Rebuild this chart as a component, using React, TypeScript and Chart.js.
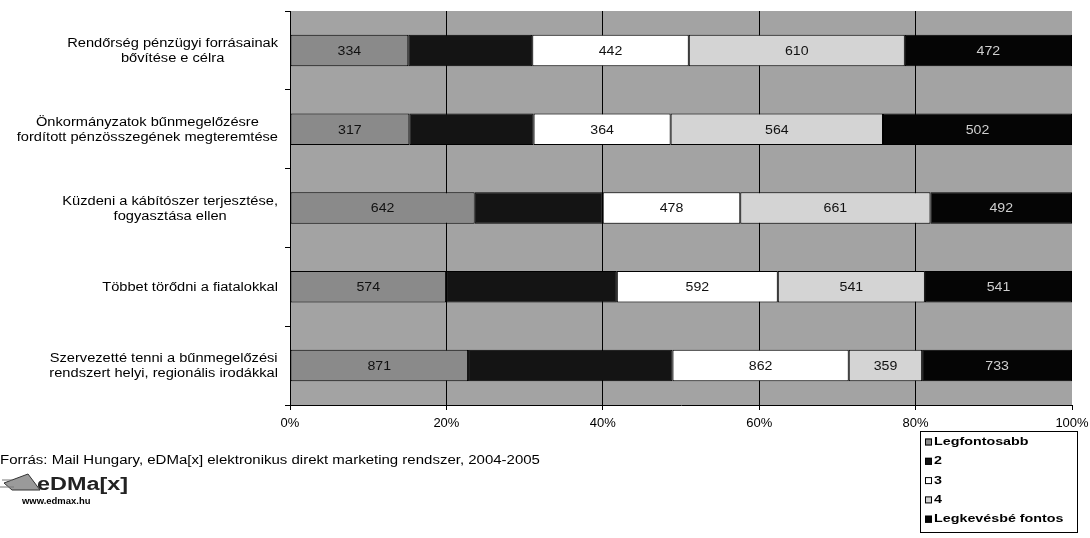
import React, { useEffect, useRef } from "react";
import { Chart, registerables } from "chart.js";

Chart.register(...registerables);

const categories: string[][] = [
  ["Rendőrség pénzügyi forrásainak", "bővítése e célra"],
  ["Önkormányzatok bűnmegelőzésre", "fordított pénzösszegének megteremtése"],
  ["Küzdeni a kábítószer terjesztése,", "fogyasztása ellen"],
  ["Többet törődni a fiatalokkal"],
  ["Szervezetté tenni a bűnmegelőzési", "rendszert helyi, regionális irodákkal"],
];

const seriesNames = ["Legfontosabb", "2", "3", "4", "Legkevésbé fontos"];
const legfontosabb = [334, 317, 642, 574, 871];
const second = [350, 330, 445, 628, 1000];
const third = [442, 364, 478, 592, 862];
const fourth = [610, 564, 661, 541, 359];
const legkevesbe = [472, 502, 492, 541, 733];
const xTicks = [0, 20, 40, 60, 80, 100];

const sourceText = "Forrás: Mail Hungary, eDMa[x] elektronikus direkt marketing rendszer, 2004-2005";
const logoText = "eDMa[x]";
const logoUrl = "www.edmax.hu";

const seriesColors = ["#8a8a8a", "#141414", "#ffffff", "#d4d4d4", "#050505"];
const labelColors = ["#111", "#111", "#111", "#111", "#cfcfcf"];
const FONT = "'Liberation Sans', Arial, sans-serif";
const SX = 1.22;

const raw = [legfontosabb, second, third, fourth, legkevesbe];
const totals = categories.map((_, i) => raw.reduce((s, arr) => s + arr[i], 0));

function stretchText(ctx: any, text: string, x: number, y: number, align: "left" | "center" | "right", sx: number) {
  const w = ctx.measureText(text).width * sx;
  let left = x;
  if (align === "center") left = x - w / 2;
  else if (align === "right") left = x - w;
  ctx.save();
  ctx.textAlign = "left";
  ctx.translate(left, y);
  ctx.scale(sx, 1);
  ctx.fillText(text, 0, 0);
  ctx.restore();
}

const bgPlugin = {
  id: "plotBg",
  beforeDraw(chart: any) {
    const { ctx, chartArea } = chart;
    ctx.save();
    ctx.fillStyle = "#a3a3a3";
    ctx.fillRect(chartArea.left, chartArea.top, chartArea.right - chartArea.left, chartArea.bottom - chartArea.top);
    ctx.restore();
  },
};

const valueLabelPlugin = {
  id: "valueLabels",
  afterDatasetsDraw(chart: any) {
    const { ctx } = chart;
    ctx.save();
    ctx.font = `12px ${FONT}`;
    ctx.textBaseline = "middle";
    chart.data.datasets.forEach((ds: any, di: number) => {
      if (di === 1) return;
      const meta = chart.getDatasetMeta(di);
      meta.data.forEach((el: any, i: number) => {
        const cx = (el.x + el.base) / 2;
        ctx.fillStyle = labelColors[di];
        stretchText(ctx, String(raw[di][i]), cx, el.y + 1, "center", 1.18);
      });
    });
    ctx.restore();
  },
};

const categoryLabelPlugin = {
  id: "categoryLabels",
  afterDraw(chart: any) {
    const { ctx } = chart;
    const yScale = chart.scales.y;
    ctx.save();
    ctx.font = `12px ${FONT}`;
    ctx.fillStyle = "#000";
    ctx.textBaseline = "middle";
    const right = 278;
    categories.forEach((lines, i) => {
      const cy = yScale.getPixelForValue(i) + 1;
      const maxW = Math.max(...lines.map((l) => ctx.measureText(l).width)) * SX;
      const cx = right - maxW / 2;
      const lh = 15;
      const start = cy - ((lines.length - 1) * lh) / 2;
      lines.forEach((l, k) => stretchText(ctx, l, cx, start + k * lh, "center", SX));
    });
    ctx.restore();
  },
};

const legendFooterPlugin = {
  id: "legendFooter",
  afterDraw(chart: any) {
    const { ctx } = chart;
    ctx.save();
    const bx = 920, by = 431, bw = 157, bh = 101;
    ctx.fillStyle = "#fff";
    ctx.fillRect(bx, by, bw, bh);
    ctx.strokeStyle = "#000";
    ctx.lineWidth = 1;
    ctx.strokeRect(bx + 0.5, by + 0.5, bw, bh);
    ctx.font = `bold 11px ${FONT}`;
    ctx.textBaseline = "middle";
    seriesNames.forEach((name, i) => {
      const y = by + 11 + i * 19.3;
      ctx.fillStyle = seriesColors[i];
      ctx.fillRect(bx + 5, y - 3.5, 7, 7);
      ctx.strokeStyle = "#000";
      ctx.strokeRect(bx + 5.5, y - 3, 6, 6);
      ctx.fillStyle = "#000";
      stretchText(ctx, name, bx + 14, y, "left", 1.3);
    });

    ctx.font = `12px ${FONT}`;
    ctx.fillStyle = "#000";
    stretchText(ctx, sourceText, 0, 461, "left", 1.25);

    // logo plane
    ctx.fillStyle = "#9a9a9a";
    ctx.beginPath();
    ctx.moveTo(4, 483);
    ctx.lineTo(28, 474);
    ctx.lineTo(40, 490);
    ctx.lineTo(12, 490);
    ctx.closePath();
    ctx.fill();
    ctx.strokeStyle = "#333";
    ctx.stroke();
    ctx.strokeStyle = "#777";
    ctx.beginPath();
    ctx.moveTo(0, 487);
    ctx.lineTo(14, 487);
    ctx.moveTo(2, 480);
    ctx.lineTo(12, 480);
    ctx.stroke();
    ctx.font = `bold 18px ${FONT}`;
    ctx.fillStyle = "#222";
    stretchText(ctx, logoText, 37, 485, "left", 1.3);
    ctx.font = `bold 9px ${FONT}`;
    ctx.fillStyle = "#000";
    stretchText(ctx, logoUrl, 22, 502, "left", 1.05);
    ctx.restore();
  },
};

export default function App() {
  const ref = useRef<HTMLCanvasElement | null>(null);
  useEffect(() => {
    if (!ref.current) return;
    const chart = new Chart(ref.current, {
      type: "bar",
      data: {
        labels: categories.map((c) => c.join(" ")),
        datasets: raw.map((arr, di) => ({
          label: seriesNames[di],
          data: arr.map((v, i) => (v / totals[i]) * 100),
          backgroundColor: seriesColors[di],
          borderColor: "#000",
          borderWidth: 1,
          borderSkipped: false,
          categoryPercentage: 1,
          barPercentage: 0.4,
        })),
      },
      options: {
        indexAxis: "y",
        responsive: false,
        animation: false,
        devicePixelRatio: 1,
        layout: { padding: { top: 11, right: 18, left: 0, bottom: 0 } },
        plugins: { legend: { display: false }, tooltip: { enabled: false } },
        scales: {
          x: {
            stacked: true,
            min: 0,
            max: 100,
            afterFit: (s: any) => {
              s.height = 133;
              s.paddingRight = 0;
              s.paddingLeft = 0;
            },
            afterBuildTicks: (s: any) => {
              s.ticks = xTicks.map((v) => ({ value: v }));
            },
            ticks: {
              callback: (v: any) => `${v}%`,
              font: { family: FONT, size: 13 },
              color: "#000",
              padding: 6,
              maxRotation: 0,
            },
            grid: {
              color: (c: any) => (c.tick && (c.tick.value === 0 || c.tick.value === 100) ? "rgba(0,0,0,0)" : "#000"),
              tickColor: "#000",
              tickLength: 5,
              lineWidth: 1,
            },
            border: { color: "#000", width: 1 },
          },
          y: {
            stacked: true,
            afterFit: (s: any) => {
              s.width = 290;
            },
            ticks: { display: false },
            grid: { drawOnChartArea: false, drawTicks: true, tickLength: 5, color: "#000", offset: true },
            border: { color: "#000", width: 1 },
          },
        },
      },
      plugins: [bgPlugin, valueLabelPlugin, categoryLabelPlugin, legendFooterPlugin],
    } as any);
    return () => chart.destroy();
  }, []);
  return (
    <div style={{ position: "fixed", left: 0, top: 0, width: 1090, height: 538, background: "#fff" }}>
      <canvas ref={ref} width={1090} height={538} style={{ display: "block", width: 1090, height: 538 }} />
    </div>
  );
}
